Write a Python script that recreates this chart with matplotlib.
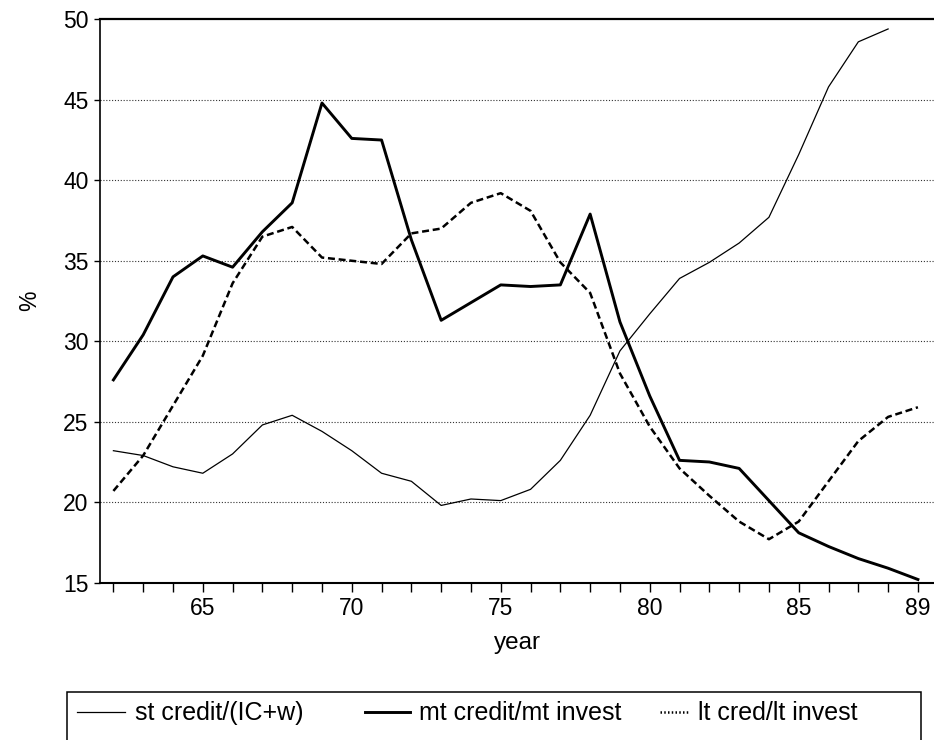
import numpy as np
import matplotlib
matplotlib.use("Agg")
import matplotlib.pyplot as plt
from matplotlib.lines import Line2D
from matplotlib.patches import Rectangle

plt.rcParams['font.family'] = ['Liberation Sans', 'DejaVu Sans']

years = list(range(62, 90))
st_credit = [23.2, 22.9, 22.2, 21.8, 23.0, 24.8, 25.4, 24.4, 23.2, 21.8, 21.3, 19.8,
             20.2, 20.1, 20.8, 22.6, 25.4, 29.4, 31.7, 33.9, 34.9, 36.1, 37.7, 41.6,
             45.8, 48.6, 49.4, np.nan]
mt_credit = [27.6, 30.4, 34.0, 35.3, 34.6, 36.8, 38.6, 44.8, 42.6, 42.5, 36.3, 31.3,
             32.4, 33.5, 33.4, 33.5, 37.9, 31.2, 26.6, 22.6, 22.5, 22.1, 20.1, 18.1,
             17.25, 16.5, 15.9, 15.2]
lt_credit = [20.7, 22.9, 26.0, 29.1, 33.6, 36.5, 37.1, 35.2, 35.0, 34.8, 36.7, 37.0,
             38.6, 39.2, 38.1, 34.9, 33.0, 28.0, 24.7, 22.1, 20.4, 18.8, 17.7, 18.8,
             21.3, 23.8, 25.3, 25.9]
labels = ["st credit/(IC+w)", "mt credit/mt invest", "lt cred/lt invest"]
xtick_vals = [65, 70, 75, 80, 85, 89]
ytick_vals = [15, 20, 25, 30, 35, 40, 45, 50]

W, H = 934, 740
fig = plt.figure(figsize=(W / 100, H / 100), dpi=100)
ax = fig.add_axes([100 / W, 1 - 582.7 / H, (934 - 100) / W, (582.7 - 19.3) / H])

for y in ytick_vals[1:-1]:
    ax.axhline(y, color='0.2', lw=0.8, linestyle=(0, (1, 1.6)), zorder=1)

l1, = ax.plot(years, st_credit, color='black', lw=0.9, zorder=3)
l2, = ax.plot(years, mt_credit, color='black', lw=2.1, zorder=3)
l3, = ax.plot(years, lt_credit, color='black', lw=1.8, dashes=(2.8, 1.5), zorder=3)

ax.set_xlim(61.55, 89.54)
ax.set_ylim(15, 50)
ax.set_xticks(years, minor=True)
ax.set_xticks(xtick_vals)
ax.set_xticklabels([str(v) for v in xtick_vals])
ax.set_yticks(ytick_vals)
ax.set_yticklabels([str(v) for v in ytick_vals])
ax.tick_params(axis='x', which='both', direction='out', length=6.5, width=1.0,
               pad=3.6, labelsize=16.5)
ax.tick_params(axis='y', which='major', direction='out', length=4, width=1.0,
               pad=4.3, labelsize=16.5)

ax.spines['right'].set_visible(False)
ax.spines['top'].set_linewidth(1.6)
ax.spines['left'].set_linewidth(1.2)
ax.spines['bottom'].set_linewidth(1.5)

ax.set_xlabel('year', fontsize=17.5)
ax.xaxis.set_label_coords(0.5, (582.7 - 643) / 563.4)
ax.xaxis.label.set_verticalalignment('center')
ax.set_ylabel('%', fontsize=16.5)
ax.yaxis.set_label_coords((30 - 100) / 834, 0.5)
ax.yaxis.label.set_verticalalignment('center')
ax.yaxis.label.set_horizontalalignment('center')

# legend box (bottom clipped by image edge)
rect = Rectangle((67 / W, -0.05), (921 - 67) / W, 0.05 + 1 - 692 / H,
                 transform=fig.transFigure, fill=False, edgecolor='black', lw=1.1)
fig.patches.append(rect)

ly = 1 - 712 / H
ty = 1 - 713 / H
entries = [
    (77, 125, 135, dict(color='black', lw=0.9)),
    (365, 410, 419, dict(color='black', lw=2.1)),
    (660, 688, 698, dict(color='black', lw=1.8, linestyle=(0, (0.6, 0.9)))),
]
for (x0, x1, tx, style), lab in zip(entries, labels):
    fig.lines.append(Line2D([x0 / W, x1 / W], [ly, ly], transform=fig.transFigure, **style))
    fig.text(tx / W, ty, lab, fontsize=18, ha='left', va='center')

fig.savefig('out.png', dpi=100)
